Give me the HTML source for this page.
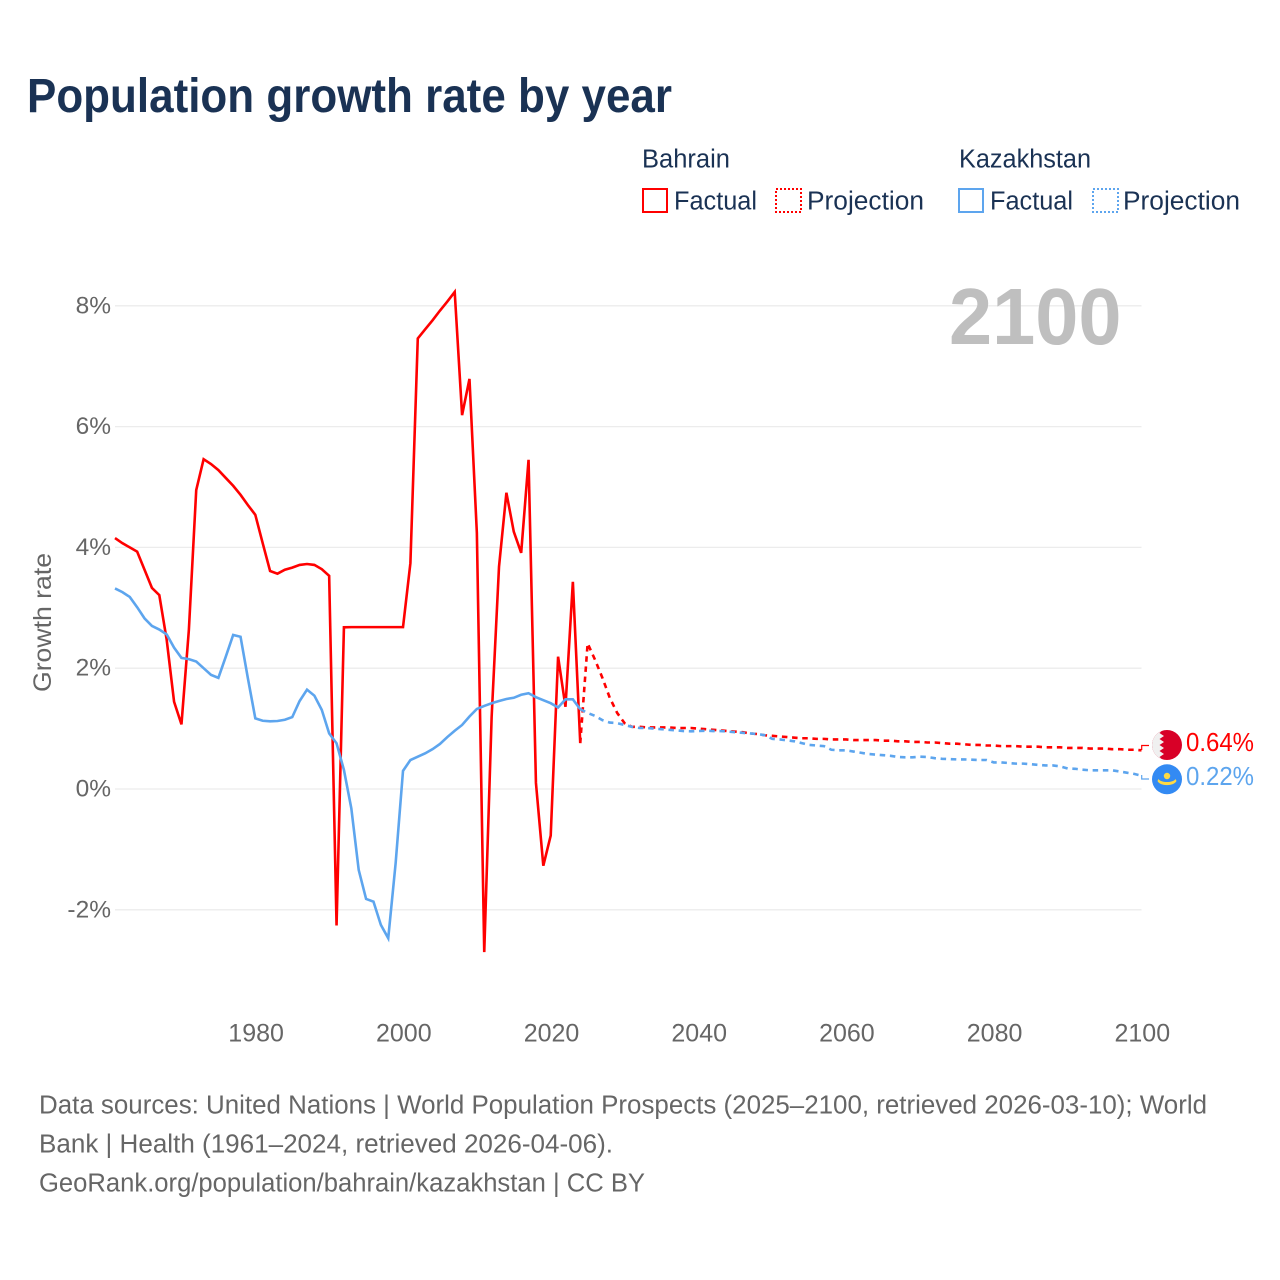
<!DOCTYPE html>
<html lang="en">
<head>
<meta charset="utf-8">
<title>Population growth rate by year</title>
<style>
html,body{margin:0;padding:0;background:#fff}
svg{display:block}
text{font-family:"Liberation Sans",sans-serif}
</style>
</head>
<body>
<svg id="chart" xmlns="http://www.w3.org/2000/svg" width="1280" height="1280" viewBox="0 0 1280 1280">
  <rect x="0" y="0" width="1280" height="1280" fill="#fff"/>
  <text x="27" y="112" font-size="48" font-weight="700" fill="#1a3254" textLength="645" lengthAdjust="spacingAndGlyphs">Population growth rate by year</text>

  <g font-size="25.5" fill="#1a3254">
    <text x="642" y="167.5" textLength="88" lengthAdjust="spacingAndGlyphs">Bahrain</text>
    <text x="959" y="167.5" textLength="132" lengthAdjust="spacingAndGlyphs">Kazakhstan</text>
    <rect x="643" y="189" width="24" height="23" fill="none" stroke="#ff0000" stroke-width="2"/>
    <text x="674" y="209.5" textLength="83" lengthAdjust="spacingAndGlyphs">Factual</text>
    <rect x="776" y="189" width="25" height="23" fill="none" stroke="#ff0000" stroke-width="2" stroke-dasharray="2 2"/>
    <text x="807" y="209.5" textLength="117" lengthAdjust="spacingAndGlyphs">Projection</text>
    <rect x="959" y="189" width="24" height="23" fill="none" stroke="#5da5ee" stroke-width="2"/>
    <text x="990" y="209.5" textLength="83" lengthAdjust="spacingAndGlyphs">Factual</text>
    <rect x="1093" y="189" width="25" height="23" fill="none" stroke="#5da5ee" stroke-width="2" stroke-dasharray="2 2"/>
    <text x="1123" y="209.5" textLength="117" lengthAdjust="spacingAndGlyphs">Projection</text>
  </g>

  <g id="grid"></g>
  <g id="yticks" font-size="24.5" fill="#666"></g>
  <g id="xticks" font-size="25" fill="#666"></g>
  <text transform="translate(51,692) rotate(-90)" font-size="25" fill="#666" textLength="139" lengthAdjust="spacingAndGlyphs">Growth rate</text>

  <text x="949" y="344" font-size="80" font-weight="700" fill="#bfbfbf" textLength="172.5" lengthAdjust="spacingAndGlyphs">2100</text>

  <g id="series"></g>

  <path d="M1141.7 750V745.5H1149" fill="none" stroke="#ff0000" stroke-width="1.2"/>
  <path d="M1141.7 775V779H1149" fill="none" stroke="#5da5ee" stroke-width="1.2"/>

  <g>
    <clipPath id="clip-bh"><circle cx="1167" cy="745" r="15"/></clipPath>
    <g clip-path="url(#clip-bh)">
      <rect x="1150" y="728" width="34" height="34" fill="#d80027"/>
      <path d="M1150 728H1165L1159.5 733L1164 736L1159.5 739L1164 742L1159.5 745L1164 748L1159.5 751L1164 754L1159.5 757L1165 762H1150Z" fill="#f0f0f0"/>
    </g>
  </g>
  <g>
    <circle cx="1167" cy="779.3" r="15" fill="#338af3"/>
    <circle cx="1167" cy="776" r="3.2" fill="#ffda44"/>
    <path d="M1158.5 779C1161 783 1173 783 1175.5 779L1176.5 781C1174 786.5 1160 786.5 1157.5 781Z" fill="#ffda44"/>
  </g>

  <text x="1186" y="751" font-size="25.5" fill="#ff0000" textLength="68" lengthAdjust="spacingAndGlyphs">0.64%</text>
  <text x="1186" y="785" font-size="25.5" fill="#5da5ee" textLength="68" lengthAdjust="spacingAndGlyphs">0.22%</text>

  <g font-size="25.5" fill="#666">
    <text x="39" y="1113.5" textLength="1168" lengthAdjust="spacingAndGlyphs">Data sources: United Nations | World Population Prospects (2025–2100, retrieved 2026-03-10); World</text>
    <text x="39" y="1152.5" textLength="574" lengthAdjust="spacingAndGlyphs">Bank | Health (1961–2024, retrieved 2026-04-06).</text>
    <text x="39" y="1191.5" textLength="606" lengthAdjust="spacingAndGlyphs">GeoRank.org/population/bahrain/kazakhstan | CC BY</text>
  </g>
</svg>

<script>
// Tick values
const yTickValues = [8, 6, 4, 2, 0, -2];
const xTickYears = [1980, 2000, 2020, 2040, 2060, 2080, 2100];

// First year of each series
const factualStartYear = 1961;
const projectionStartYear = 2024;

// Bahrain growth rate (%), 1961-2024
const bahrainFactual = [
  4.155, 4.07, 4.00, 3.93, 3.63, 3.33, 3.21, 2.47, 1.445, 1.07,
  2.63, 4.95, 5.46, 5.38, 5.28, 5.15, 5.02, 4.87, 4.70, 4.54,
  4.07, 3.61, 3.565, 3.63, 3.665, 3.71, 3.725, 3.71, 3.64, 3.53,
  -2.26, 2.677, 2.68, 2.68, 2.68, 2.68, 2.68, 2.68, 2.68, 2.68,
  3.74, 7.46, 7.61, 7.76, 7.92, 8.07, 8.23, 6.19, 6.79, 4.24,
  -2.70, 1.19, 3.68, 4.905, 4.26, 3.91, 5.45, 0.10, -1.27, -0.77,
  2.19, 1.36, 3.43, 0.76
];

// Bahrain projection (%), 2024-2100
const bahrainProjection = [
  0.76, 2.41, 2.14, 1.84, 1.51, 1.26, 1.09, 1.03, 1.03, 1.02,
  1.02, 1.02, 1.02, 1.01, 1.01, 1.01, 1.00, 0.99, 0.98, 0.97,
  0.96, 0.95, 0.94, 0.92, 0.91, 0.89, 0.88, 0.87, 0.86, 0.85,
  0.84, 0.84, 0.83, 0.83, 0.82, 0.82, 0.82, 0.81, 0.81, 0.81,
  0.81, 0.80, 0.80, 0.79, 0.79, 0.78, 0.78, 0.77, 0.77, 0.76,
  0.75, 0.75, 0.74, 0.73, 0.73, 0.72, 0.72, 0.71, 0.71, 0.71,
  0.70, 0.70, 0.70, 0.69, 0.69, 0.69, 0.68, 0.68, 0.68, 0.67,
  0.67, 0.67, 0.66, 0.66, 0.65, 0.65, 0.64
];

// Kazakhstan growth rate (%), 1961-2024
const kazakhstanFactual = [
  3.32, 3.26, 3.18, 3.01, 2.825, 2.70, 2.64, 2.56, 2.34, 2.17,
  2.15, 2.11, 2.00, 1.89, 1.84, 2.19, 2.55, 2.52, 1.83, 1.17,
  1.13, 1.12, 1.126, 1.147, 1.19, 1.457, 1.645, 1.545, 1.31, 0.92,
  0.757, 0.315, -0.32, -1.34, -1.82, -1.865, -2.25, -2.47, -1.23, 0.30,
  0.48, 0.535, 0.59, 0.66, 0.745, 0.86, 0.965, 1.06, 1.20, 1.325,
  1.375, 1.42, 1.457, 1.49, 1.51, 1.56, 1.585, 1.52, 1.47, 1.42,
  1.35, 1.485, 1.485, 1.32
];

// Kazakhstan projection (%), 2024-2100
const kazakhstanProjection = [
  1.32, 1.26, 1.21, 1.14, 1.10, 1.09, 1.06, 1.03, 1.01, 1.01,
  1.00, 0.99, 0.98, 0.97, 0.96, 0.955, 0.96, 0.965, 0.96, 0.96,
  0.95, 0.94, 0.93, 0.92, 0.91, 0.89, 0.83, 0.82, 0.805, 0.79,
  0.76, 0.73, 0.72, 0.71, 0.65, 0.64, 0.64, 0.62, 0.60, 0.58,
  0.57, 0.56, 0.55, 0.53, 0.525, 0.525, 0.535, 0.53, 0.51, 0.50,
  0.495, 0.49, 0.49, 0.485, 0.48, 0.48, 0.44, 0.44, 0.43, 0.42,
  0.42, 0.41, 0.40, 0.39, 0.39, 0.375, 0.34, 0.335, 0.32, 0.31,
  0.31, 0.31, 0.31, 0.29, 0.27, 0.25, 0.22
];

const SVG_NS = 'http://www.w3.org/2000/svg';
function xScale(year) { return 115 + (year - 1961) * (1141.5 - 115) / (2100 - 1961); }
function yScale(pct) { return 789 - pct * 60.4; }
function pathFor(values, startYear) {
  return values.map(function (v, i) {
    return (i ? 'L' : 'M') + xScale(startYear + i).toFixed(2) + ' ' + yScale(v).toFixed(2);
  }).join('');
}

const gridGroup = document.getElementById('grid');
const yTickGroup = document.getElementById('yticks');
const xTickGroup = document.getElementById('xticks');
const seriesGroup = document.getElementById('series');

yTickValues.forEach(function (v) {
  const line = document.createElementNS(SVG_NS, 'line');
  
  
  line.setAttribute('x1', 115);
  line.setAttribute('x2', 1141.5);
  line.setAttribute('y1', yScale(v));
  line.setAttribute('y2', yScale(v));
  line.setAttribute('stroke', '#ececec');
  line.setAttribute('stroke-width', 1.3);
  gridGroup.appendChild(line);

  const label = document.createElementNS(SVG_NS, 'text');
  
  
  label.setAttribute('x', 111);
  label.setAttribute('y', yScale(v) + 7.5);
  label.setAttribute('text-anchor', 'end');
  label.textContent = v + '%';
  yTickGroup.appendChild(label);
});

xTickYears.forEach(function (year) {
  const label = document.createElementNS(SVG_NS, 'text');
  
  
  label.setAttribute('x', xScale(year) + 0.8);
  label.setAttribute('y', 1041.5);
  label.setAttribute('text-anchor', 'middle');
  label.textContent = String(year);
  xTickGroup.appendChild(label);
});

function addProjection(values, color, name) {
  const p = document.createElementNS(SVG_NS, 'path');
  
  
  p.setAttribute('d', pathFor(values, projectionStartYear));
  p.setAttribute('fill', 'none');
  p.setAttribute('stroke', color);
  p.setAttribute('stroke-width', 2.6);
  p.setAttribute('stroke-dasharray', '5.5 4.7');
  seriesGroup.appendChild(p);
}
function addFactual(values, color, name) {
  const p = document.createElementNS(SVG_NS, 'path');
  
  
  p.setAttribute('d', pathFor(values, factualStartYear));
  p.setAttribute('fill', 'none');
  p.setAttribute('stroke', color);
  p.setAttribute('stroke-width', 2.6);
  p.setAttribute('stroke-linejoin', 'miter');
  seriesGroup.appendChild(p);
}

addFactual(bahrainFactual, '#ff0000', 'line-bahrain-factual');
addProjection(bahrainProjection, '#ff0000', 'line-bahrain-projection');
addFactual(kazakhstanFactual, '#5da5ee', 'line-kazakhstan-factual');
addProjection(kazakhstanProjection, '#5da5ee', 'line-kazakhstan-projection');
</script>
</body>
</html>
